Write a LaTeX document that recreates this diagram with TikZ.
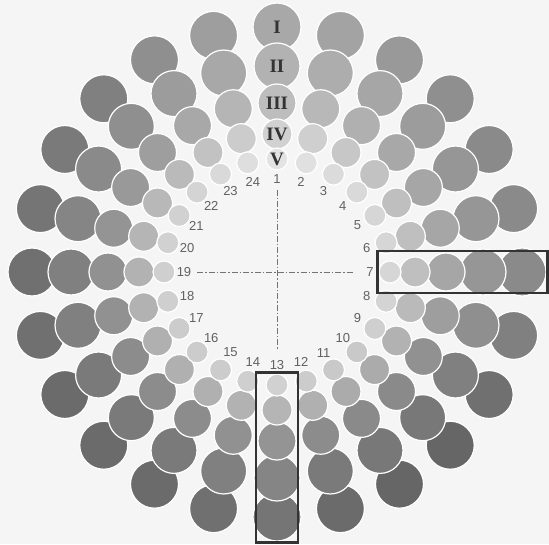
\documentclass[tikz,border=0pt]{standalone}
\usepackage{fontspec}
\setmainfont{Liberation Serif}
\setsansfont{Liberation Sans}
\usetikzlibrary{fit, calc}

\begin{document}
\begin{tikzpicture}[
        x=1pt, y=1pt,
        disc/.style={circle, draw=white, line width=1.2pt, inner sep=0pt},
        num/.style={font=\sffamily\fontsize{13}{13}\selectfont, text=black!62, inner sep=1pt},
        roman/.style={font=\fontsize{19}{19}\selectfont\bfseries, text=black!80, inner sep=0pt},
        axis/.style={black!55, line width=0.7pt, dash pattern=on 6pt off 2pt on 1.5pt off 2pt},
        hilite/.style={draw=black!80, line width=2.6pt, inner sep=1pt}
    ]
        \fill[black!4] (-277,-272) rectangle (272,272);
        \useasboundingbox (-277,-272) rectangle (272,272);

        % rings I..V, outer ring first so the inner discs lie on top
        \foreach \ring/\dist/\rad/\f in {1/245/24/1.0, 2/206/23/0.9, 3/169/19/0.78, 4/138/15/0.55, 5/113/11/0.35}{
            \foreach \c/\b in {1/34, 2/36, 3/40, 4/44, 5/46, 6/46, 7/46, 8/50, 9/56, 10/60, 11/60, 12/58,
                               13/54, 14/56, 15/58, 16/58, 17/58, 18/56, 19/56, 20/54, 21/52, 22/50, 23/44, 24/38}{
                \pgfmathtruncatemacro\k{\b*\f}
                \pgfmathsetmacro\dia{2*\rad}
                \node[disc, minimum size=\dia pt, fill=black!\k] (c\c-\ring) at ({90-(\c-1)*15}:\dist pt) {};
            }
        }

        % hue numbers
        \foreach \c in {1,...,24}
            \node[num] (n\c) at ({90-(\c-1)*15}:93pt) {\c};

        % ring numerals
        \foreach \ring/\lab in {1/I, 2/II, 3/III, 4/IV, 5/V}
            \node[roman] (r\ring) at (c1-\ring) {\lab};

        \draw[axis, shorten <=5pt, shorten >=12pt] (n19.east) -- (n7.west);
        \draw[axis, shorten <=5pt, shorten >=9pt] (n1.south) -- (n13.north);

        \node[hilite, fit=(c7-5.west)(c7-1.east), inner ysep=21pt] (box7) {};
        \node[hilite, fit=(c13-5.north)(c13-1.south), inner xsep=21pt] (box13) {};
    \end{tikzpicture}
\end{document}
